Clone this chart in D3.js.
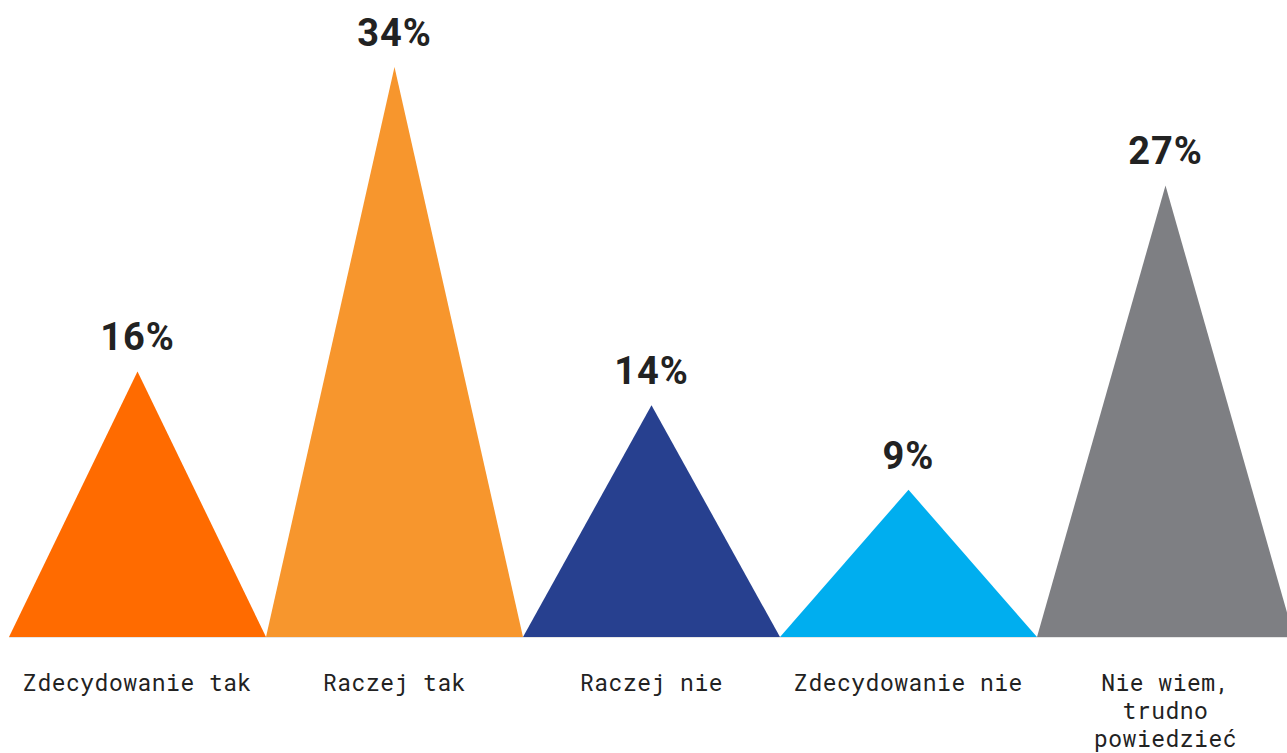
<!DOCTYPE html>
<html lang="pl">
<head>
<meta charset="utf-8">
<script src="https://cdn.jsdelivr.net/npm/d3@7"></script>
<style>
  html, body { margin: 0; padding: 0; background: #ffffff; overflow: hidden; }
  svg { display: block; }
</style>
</head>
<body>
<svg id="chart" width="1287" height="753"></svg>
<script>
// Survey answers and their shares (%)
const categories = [
  "Zdecydowanie tak",
  "Raczej tak",
  "Raczej nie",
  "Zdecydowanie nie",
  "Nie wiem, trudno powiedzieć"
];
const values = [16, 34, 14, 9, 27];
const valueLabels = ["16%", "34%", "14%", "9%", "27%"];
const labelLines = [
  ["Zdecydowanie tak"],
  ["Raczej tak"],
  ["Raczej nie"],
  ["Zdecydowanie nie"],
  ["Nie wiem,", "trudno", "powiedzieć"]
];
const colors = ["#ff6b00", "#f7962d", "#27408f", "#00aeef", "#7e7f83"];

const svg = d3.select("#chart");
const baseline = 637;

const x = d3.scaleBand()
  .domain(categories)
  .range([9, 1294])
  .padding(0);

const y = d3.scaleLinear()
  .domain([0, 34])
  .range([642, 67]);

const data = categories.map((c, i) => ({
  cat: c, value: values[i], label: valueLabels[i], lines: labelLines[i], color: colors[i]
}));

// faint base line
svg.append("line")
  .attr("x1", x.range()[0]).attr("x2", x.range()[1])
  .attr("y1", baseline + 0.5).attr("y2", baseline + 0.5)
  .attr("stroke", "#e6e6e6").attr("stroke-width", 1);

// triangles: base spans the full band, apex at the value
svg.selectAll("path.peak")
  .data(data)
  .join("path")
  .attr("class", "peak")
  .attr("fill", d => d.color)
  .attr("d", d => {
    const x0 = x(d.cat), x1 = x0 + x.bandwidth(), xm = x0 + x.bandwidth() / 2;
    return `M${x0},${baseline}L${xm},${y(d.value)}L${x1},${baseline}Z`;
  });

// value labels above the apex
svg.selectAll("text.val")
  .data(data)
  .join("text")
  .attr("class", "val")
  .attr("x", d => x(d.cat) + x.bandwidth() / 2)
  .attr("y", d => y(d.value) - 21)
  .attr("text-anchor", "middle")
  .attr("font-family", "Roboto, 'Noto Sans', sans-serif")
  .attr("font-weight", 700)
  .attr("font-size", 38)
  .attr("letter-spacing", 1)
  .attr("fill", "#222222")
  .text(d => d.label);

// category labels under the base, one text per line
const lineItems = data.flatMap(d =>
  d.lines.map((t, i) => ({ t, i, cx: x(d.cat) + x.bandwidth() / 2 }))
);

svg.selectAll("text.cat")
  .data(lineItems)
  .join("text")
  .attr("class", "cat")
  .attr("x", d => d.cx)
  .attr("y", d => 691 + d.i * 28)
  .attr("text-anchor", "middle")
  .attr("font-family", "'Roboto Mono', 'DejaVu Sans Mono', 'Liberation Mono', monospace")
  .attr("font-size", 23)
  .attr("letter-spacing", 0.5)
  .attr("fill", "#222222")
  .text(d => d.t);
</script>
</body>
</html>
